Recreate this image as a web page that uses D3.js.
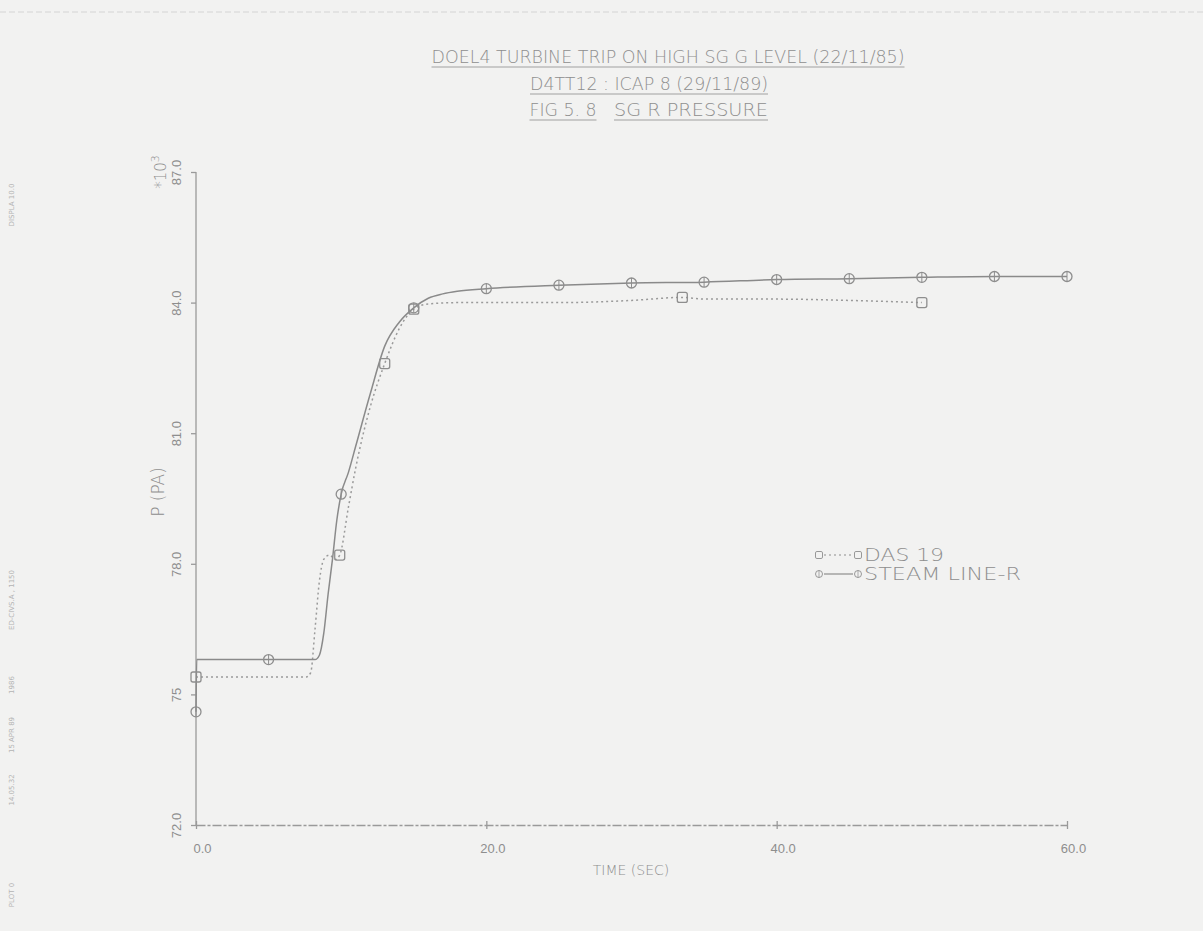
<!DOCTYPE html>
<html>
<head>
<meta charset="utf-8">
<script src="https://cdn.jsdelivr.net/npm/d3@7"></script>
<style>
  html, body { margin: 0; padding: 0; background: #f2f2f1; }
  svg { display: block; font-family: 'DejaVu Sans', sans-serif; }
  .ink { fill: #8e8e8e; }
  .axis path, .axis line { stroke: #9a9a9a; stroke-width: 1.3; }
  .axis text { fill: #8e8e8e; font-size: 13px; font-weight: 200; }
</style>
</head>
<body>
<svg id="chart" width="1203" height="931"></svg>
<script>
// ---- data (time in s, pressure in kPa / 1000) ----
const titleLines = [
  'DOEL4 TURBINE TRIP ON HIGH SG G LEVEL (22/11/85)',
  'D4TT12 : ICAP 8 (29/11/89)',
]
const figLabel = 'FIG 5. 8'
const figTitle = 'SG R PRESSURE'

const xTicks = [0, 20, 40, 60]
const xTickLabels = ['0.0', '20.0', '40.0', '60.0']
const yTicks = [72, 75, 78, 81, 84, 87]
const yTickLabels = ['72.0', '75', '78.0', '81.0', '84.0', '87.0']

const dasTime = [0, 5, 7.6, 7.9, 8.2, 8.5, 8.8, 9.2, 9.6, 9.9, 10.5, 11, 12, 13, 14, 15, 16, 18, 20, 25, 30, 33.5, 35, 40, 45, 50]
const dasP    = [75.4, 75.4, 75.4, 75.5, 76.5, 77.6, 78.1, 78.2, 78.1, 78.2, 79.3, 80.2, 81.6, 82.6, 83.4, 83.85, 83.97, 84.0, 84.0, 84.0, 84.05, 84.12, 84.08, 84.08, 84.05, 84.0]
const dasMarks = [0, 9.9, 13, 15, 33.5, 50]

const steamTime = [0, 0.05, 5, 8.2, 8.5, 8.8, 9.1, 9.4, 9.7, 10, 10.5, 11, 12, 13, 14, 15, 16, 17, 18, 20, 25, 30, 35, 40, 45, 50, 55, 60]
const steamP    = [74.6, 75.8, 75.8, 75.8, 75.9, 76.4, 77.3, 78.1, 79.0, 79.6, 80.1, 80.7, 81.9, 83.0, 83.55, 83.88, 84.1, 84.2, 84.26, 84.32, 84.4, 84.45, 84.47, 84.53, 84.55, 84.58, 84.6, 84.6]
const steamMarks = [0, 5, 10, 15, 20, 25, 30, 35, 40, 45, 50, 55, 60]

const sideNotes = [
  { text: 'DISPLA 10.0', at: 205 },
  { text: 'ED-CIVS.A , 1150', at: 600 },
  { text: '1986', at: 685 },
  { text: '15 APR 89', at: 735 },
  { text: '14.05.32', at: 790 },
  { text: 'PLOT 0', at: 895 },
]

const ink = '#8e8e8e'
const svg = d3.select('#chart')
const x = d3.scaleLinear().domain([0, 60]).range([196, 1067])
const y = d3.scaleLinear().domain([72, 87]).range([825, 172])

// faint scan border at top
svg.append('line')
  .attr('x1', 0).attr('x2', 1203).attr('y1', 12).attr('y2', 12)
  .attr('stroke', '#d4d4d4').attr('stroke-width', 1).attr('stroke-dasharray', '6 3')

// ---- titles ----
function underlined(txt, cx, cy, size, len) {
  svg.append('text')
    .attr('class', 'ink')
    .attr('x', cx).attr('y', cy)
    .attr('text-anchor', 'middle')
    .attr('font-size', size)
    .attr('font-weight', 200)
    .attr('textLength', len)
    .attr('lengthAdjust', 'spacingAndGlyphs')
    .text(txt)
  svg.append('line')
    .attr('x1', cx - len / 2).attr('x2', cx + len / 2)
    .attr('y1', cy + 4).attr('y2', cy + 4)
    .attr('stroke', '#a0a0a0').attr('stroke-width', 1)
}
underlined(titleLines[0], 668, 63, 18, 473)
underlined(titleLines[1], 649, 90, 18, 238)
underlined(figLabel, 563, 116, 18, 67)
underlined(figTitle, 691, 116, 18, 154)

// ---- axes ----
const yAxis = svg.append('g')
  .attr('class', 'axis')
  .attr('transform', `translate(${x(0)},0)`)
  .call(d3.axisLeft(y).tickValues(yTicks).tickSize(5).tickSizeOuter(0)
    .tickFormat((d, i) => yTickLabels[i]))
yAxis.select('.domain').attr('d', `M0,${y(72)}V${y(87)}`)
yAxis.selectAll('text')
  .attr('x', 0).attr('y', 0).attr('dy', null)
  .attr('text-anchor', 'middle')
  .attr('dominant-baseline', 'central')
  .attr('transform', 'translate(-20,0) rotate(-90)')

const xAxis = svg.append('g')
  .attr('class', 'axis')
  .attr('transform', `translate(0,${y(72)})`)
  .call(d3.axisBottom(x).tickValues(xTicks).tickSize(4).tickSizeOuter(0)
    .tickFormat((d, i) => xTickLabels[i]))
xAxis.select('.domain').attr('stroke-dasharray', '9 2 3 2')
xAxis.selectAll('.tick line').attr('y1', -4)
xAxis.selectAll('text').attr('dy', '1.6em').attr('dx', 6)

svg.append('text')
  .attr('class', 'ink')
  .attr('x', 631).attr('y', 875)
  .attr('text-anchor', 'middle')
  .attr('font-size', 14).attr('font-weight', 200)
  .text('TIME (SEC)')

svg.append('text')
  .attr('class', 'ink')
  .attr('transform', 'translate(164,492) rotate(-90)')
  .attr('text-anchor', 'middle')
  .attr('font-size', 17).attr('font-weight', 200)
  .text('P (PA)')

const mult = svg.append('text')
  .attr('class', 'ink')
  .attr('transform', 'translate(166,172) rotate(-90)')
  .attr('text-anchor', 'middle')
  .attr('font-size', 15).attr('font-weight', 200)
mult.append('tspan').text('*10')
mult.append('tspan').attr('dy', -7).attr('font-size', 11).text('3')

// ---- series ----
const das = dasTime.map((t, i) => ({ t, p: dasP[i] }))
const steam = steamTime.map((t, i) => ({ t, p: steamP[i] }))

const line = d3.line()
  .x((d) => x(d.t))
  .y((d) => y(d.p))
  .curve(d3.curveMonotoneX)

svg.append('path')
  .datum(das)
  .attr('d', line)
  .attr('fill', 'none')
  .attr('stroke', '#9a9a9a')
  .attr('stroke-width', 1.5)
  .attr('stroke-dasharray', '2 3')

svg.append('path')
  .datum(steam)
  .attr('d', line)
  .attr('fill', 'none')
  .attr('stroke', '#8a8a8a')
  .attr('stroke-width', 1.5)

function squareMark(sel) {
  sel.append('rect')
    .attr('x', -5).attr('y', -5).attr('width', 10).attr('height', 10)
    .attr('rx', 2)
    .attr('fill', 'none').attr('stroke', ink).attr('stroke-width', 1.3)
}
function circleMark(sel) {
  sel.append('circle').attr('r', 5)
    .attr('fill', 'none').attr('stroke', ink).attr('stroke-width', 1.3)
  sel.append('line').attr('y1', -5).attr('y2', 5)
    .attr('stroke', ink).attr('stroke-width', 1)
}

svg.append('g').selectAll('g')
  .data(das.filter((d) => dasMarks.includes(d.t)))
  .join('g')
  .attr('transform', (d) => `translate(${x(d.t)},${y(d.p)})`)
  .call(squareMark)

svg.append('g').selectAll('g')
  .data(steam.filter((d) => steamMarks.includes(d.t)))
  .join('g')
  .attr('transform', (d) => `translate(${x(d.t)},${y(d.p)})`)
  .call(circleMark)

// ---- legend ----
const legend = svg.append('g').attr('transform', 'translate(819,555)')
const legendRows = [
  { name: 'DAS 19', mark: squareMark, dash: '2 3', len: 80 },
  { name: 'STEAM LINE-R', mark: circleMark, dash: null, len: 157 },
]
legendRows.forEach((r, i) => {
  const row = legend.append('g').attr('transform', `translate(0,${i * 19})`)
  row.append('line').attr('x1', 5).attr('x2', 34)
    .attr('stroke', ink).attr('stroke-width', 1.2)
    .attr('stroke-dasharray', r.dash)
  row.append('g').attr('transform', 'scale(0.7)').call(r.mark)
  row.append('g').attr('transform', 'translate(39,0) scale(0.7)').call(r.mark)
  row.append('text')
    .attr('class', 'ink')
    .attr('x', 45).attr('y', 0)
    .attr('dominant-baseline', 'central')
    .attr('font-size', 17).attr('font-weight', 200)
    .attr('textLength', r.len)
    .attr('lengthAdjust', 'spacingAndGlyphs')
    .text(r.name)
})

// ---- faint plotter notes down the left edge ----
svg.append('g').selectAll('text')
  .data(sideNotes)
  .join('text')
  .attr('transform', (d) => `translate(12,${d.at}) rotate(-90)`)
  .attr('text-anchor', 'middle')
  .attr('dominant-baseline', 'central')
  .attr('font-size', 7)
  .attr('fill', '#b4b4b4')
  .text((d) => d.text)
</script>
</body>
</html>
